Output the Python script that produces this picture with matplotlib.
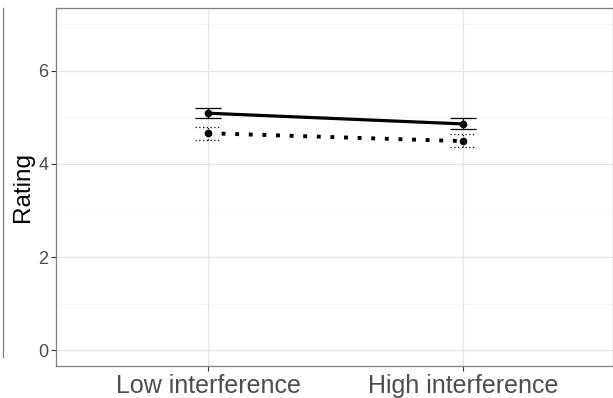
import matplotlib
matplotlib.use("Agg")
import matplotlib.pyplot as plt
from matplotlib.lines import Line2D

plt.rcParams["font.family"] = ["Liberation Sans", "DejaVu Sans"]

# data
conditions = ["Low interference", "High interference"]
solid_mean = [5.09, 4.86]
solid_lo = [4.98, 4.75]
solid_hi = [5.21, 4.98]
dotted_mean = [4.66, 4.49]
dotted_lo = [4.52, 4.36]
dotted_hi = [4.79, 4.64]

x = [1, 2]
cap = 0.05

fig = plt.figure(figsize=(6.13, 3.98), dpi=100)
ax = fig.add_axes([56 / 613, 32 / 398, 1 - 56 / 613, 358 / 398])

# panel grid, ggplot theme_bw look
ax.set_xlim(0.404, 2.588)
ax.set_ylim(-0.34, 7.35)
for v in [1, 3, 5, 7]:
    ax.axhline(v, color="#f4f4f4", lw=0.6, zorder=0)
for v in [0, 2, 4, 6]:
    ax.axhline(v, color="#e6e6e6", lw=0.9, zorder=0)
for v in x:
    ax.axvline(v, color="#e6e6e6", lw=0.9, zorder=0)

# solid series
ax.plot(x, solid_mean, color="black", lw=2.3, solid_capstyle="butt", zorder=3)
ax.plot(x, solid_mean, "o", color="black", ms=4.5, zorder=4)
ax.vlines(x, solid_lo, solid_hi, color="black", lw=0.9, zorder=3)
ax.hlines(solid_lo, [i - cap for i in x], [i + cap for i in x], color="black", lw=0.9)
ax.hlines(solid_hi, [i - cap for i in x], [i + cap for i in x], color="black", lw=0.9)

# dotted series
ax.plot(x, dotted_mean, color="black", lw=2.8, dashes=(1, 2.5),
        dash_capstyle="butt", zorder=3)
ax.plot(x, dotted_mean, "o", color="black", ms=4.5, zorder=4)
for xs, lo, hi in zip(x, dotted_lo, dotted_hi):
    ax.plot([xs, xs], [lo, hi], color="black", lw=0.9, ls=(0, (1, 2)))
    ax.plot([xs - cap, xs + cap], [lo, lo], color="black", lw=0.9, ls=(0, (1, 2)))
    ax.plot([xs - cap, xs + cap], [hi, hi], color="black", lw=0.9, ls=(0, (1, 2)))

ax.set_xticks(x)
ax.set_xticklabels(conditions, fontsize=18, color="#4d4d4d")
ax.set_yticks([0, 2, 4, 6])
ax.set_yticklabels(["0", "2", "4", "6"], fontsize=13, color="#4d4d4d")
ax.tick_params(length=3.5, width=0.8, color="#333333", pad=2)
ax.set_ylabel("Rating", fontsize=17.5, labelpad=3)

for s in ax.spines.values():
    s.set_color("#7f7f7f")
    s.set_linewidth(0.9)

# edge of the neighbouring panel at the far left
fig.add_artist(Line2D([2.5 / 613, 2.5 / 613], [1 - 8 / 398, 1 - 357 / 398],
                      color="#7f7f7f", lw=0.9))

fig.savefig("out.png", dpi=100)
